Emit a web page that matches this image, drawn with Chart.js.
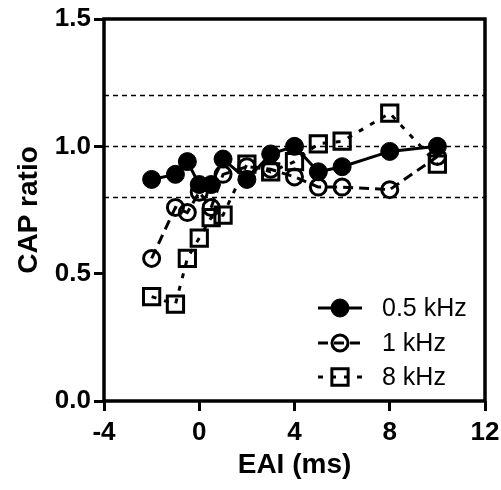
<!DOCTYPE html>
<html>
<head>
<meta charset="utf-8">
<script src="https://cdn.jsdelivr.net/npm/chart.js@4"></script>
<style>
  html, body { margin: 0; padding: 0; background: #fff; }
  #wrap { width: 501px; height: 490px; }
</style>
</head>
<body>
<div id="wrap"><canvas id="chart" width="501" height="490"></canvas></div>
<script>
'use strict';

// EAI values (ms), shared by all three series
const eai = [-2, -1, -0.5, 0, 0.5, 1, 2, 3, 4, 5, 6, 8, 10];
const seriesNames = ['0.5 kHz', '1 kHz', '8 kHz'];
const ratio05k = [0.87, 0.89, 0.94, 0.85, 0.85, 0.95, 0.87, 0.97, 1.00, 0.90, 0.92, 0.98, 1.00];
const ratio1k = [0.56, 0.76, 0.74, 0.82, 0.76, 0.89, 0.92, 0.91, 0.88, 0.84, 0.84, 0.83, 0.96];
const ratio8k = [0.41, 0.38, 0.56, 0.64, 0.72, 0.73, 0.93, 0.90, 0.94, 1.01, 1.02, 1.13, 0.93];
const refLines = [0.8, 1.0, 1.2];
const xTicks = [-4, 0, 4, 8, 12];
const yTicks = [0.0, 0.5, 1.0, 1.5];

const FONT = '"Liberation Sans", Arial, sans-serif';

function toPoints(ys) {
  return eai.map((x, i) => ({ x: x, y: ys[i] }));
}

// dashed reference lines across the plot
const refLinePlugin = {
  id: 'refLines',
  beforeDatasetsDraw(chart) {
    const ctx = chart.ctx;
    const area = chart.chartArea;
    const y = chart.scales.y;
    ctx.save();
    ctx.strokeStyle = '#000';
    ctx.lineWidth = 1.5;
    ctx.setLineDash([5, 4]);
    refLines.forEach(v => {
      const py = Math.round(y.getPixelForValue(v)) + 0.5;
      ctx.beginPath();
      ctx.moveTo(area.left, py);
      ctx.lineTo(area.right, py);
      ctx.stroke();
    });
    ctx.restore();
  }
};

// box round the plot area
const framePlugin = {
  id: 'frame',
  afterDatasetsDraw(chart) {
    const ctx = chart.ctx;
    const a = chart.chartArea;
    ctx.save();
    ctx.strokeStyle = '#000';
    ctx.lineWidth = 3.5;
    ctx.strokeRect(a.left, a.top, a.right - a.left, a.bottom - a.top);
    ctx.restore();
  }
};

function drawMarker(ctx, ds, x, y) {
  ctx.save();
  ctx.setLineDash([]);
  ctx.lineWidth = ds.pointBorderWidth;
  ctx.strokeStyle = '#000';
  ctx.fillStyle = ds.pointBackgroundColor;
  ctx.beginPath();
  if (ds.pointStyle === 'rect') {
    const s = ds.pointRadius * Math.SQRT1_2;
    ctx.rect(x - s, y - s, 2 * s, 2 * s);
  } else {
    ctx.arc(x, y, ds.pointRadius, 0, Math.PI * 2);
  }
  ctx.fill();
  ctx.stroke();
  ctx.restore();
}

// legend inside the lower right of the plot
const legendPlugin = {
  id: 'insideLegend',
  afterDraw(chart) {
    const ctx = chart.ctx;
    const rows = [308, 343, 377];
    chart.data.datasets.forEach((ds, i) => {
      const y = rows[i];
      ctx.save();
      ctx.strokeStyle = '#000';
      ctx.lineWidth = 3;
      ctx.setLineDash(ds.borderDash || []);
      ctx.beginPath();
      ctx.moveTo(318, y);
      ctx.lineTo(362, y);
      ctx.stroke();
      ctx.restore();
      drawMarker(ctx, ds, 340, y);
      ctx.save();
      ctx.fillStyle = '#000';
      ctx.font = '25px ' + FONT;
      ctx.textBaseline = 'middle';
      ctx.fillText(ds.label, 382, y + 1);
      ctx.restore();
    });
  }
};

const ctx = document.getElementById('chart').getContext('2d');
const myChart = new Chart(ctx, {
  type: 'line',
  data: {
    datasets: [
      {
        label: seriesNames[0],
        data: toPoints(ratio05k),
        borderColor: '#000',
        borderWidth: 3,
        pointStyle: 'circle',
        pointRadius: 9,
        pointBorderWidth: 1,
        pointBackgroundColor: '#000',
        pointBorderColor: '#000'
      },
      {
        label: seriesNames[1],
        data: toPoints(ratio1k),
        borderColor: '#000',
        borderWidth: 3,
        borderDash: [10, 6],
        pointStyle: 'circle',
        pointRadius: 8,
        pointBorderWidth: 3,
        pointBackgroundColor: 'rgba(255,255,255,0)',
        pointBorderColor: '#000'
      },
      {
        label: seriesNames[2],
        data: toPoints(ratio8k),
        borderColor: '#000',
        borderWidth: 3,
        borderDash: [5, 8],
        pointStyle: 'rect',
        pointRadius: 11.5,
        pointBorderWidth: 3,
        pointBackgroundColor: 'rgba(255,255,255,0)',
        pointBorderColor: '#000'
      }
    ]
  },
  options: {
    responsive: false,
    animation: false,
    layout: { padding: { top: 19, right: 16, left: 0, bottom: 0 } },
    plugins: {
      legend: { display: false },
      tooltip: { enabled: false }
    },
    scales: {
      x: {
        type: 'linear',
        min: -4,
        max: 12,
        afterBuildTicks: s => { s.ticks = xTicks.map(v => ({ value: v })); },
        afterFit: s => { s.height = 89; s.paddingLeft = 0; s.paddingRight = 0; },
        border: { display: false },
        grid: { drawOnChartArea: false, tickLength: 10, lineWidth: 3, color: '#000' },
        ticks: {
          color: '#000',
          padding: 6,
          maxRotation: 0,
          font: { family: FONT, size: 26, weight: 'bold' }
        },
        title: {
          display: true,
          text: 'EAI (ms)',
          color: '#000',
          padding: { top: 0, bottom: 8 },
          font: { family: FONT, size: 28, weight: 'bold' }
        }
      },
      y: {
        min: 0,
        max: 1.5,
        afterBuildTicks: s => { s.ticks = yTicks.map(v => ({ value: v })); },
        afterFit: s => { s.width = 104; s.paddingTop = 0; s.paddingBottom = 0; },
        border: { display: false },
        grid: { drawOnChartArea: false, tickLength: 10, lineWidth: 3, color: '#000' },
        ticks: {
          color: '#000',
          padding: 3,
          callback: v => Number(v).toFixed(1),
          font: { family: FONT, size: 26, weight: 'bold' }
        },
        title: {
          display: true,
          text: 'CAP ratio',
          color: '#000',
          padding: { top: 12, bottom: 0 },
          font: { family: FONT, size: 28, weight: 'bold' }
        }
      }
    }
  },
  plugins: [refLinePlugin, framePlugin, legendPlugin]
});
</script>
</body>
</html>
